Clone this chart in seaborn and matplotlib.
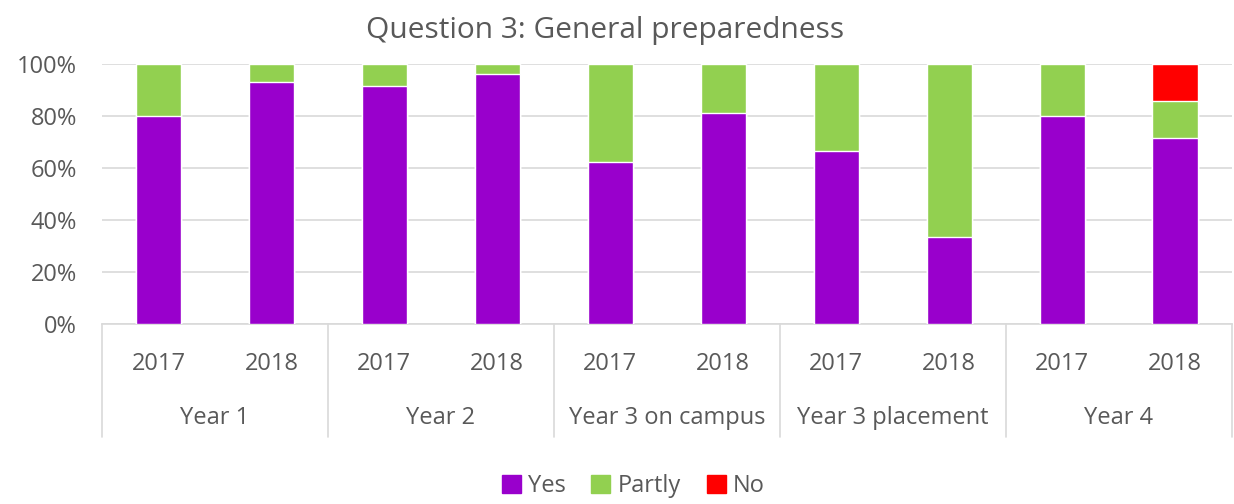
import pandas as pd
import matplotlib
matplotlib.use("Agg")
import matplotlib.pyplot as plt
import matplotlib.transforms as mtransforms
from matplotlib.patches import Patch
import seaborn as sns

groups = ["Year 1", "Year 2", "Year 3 on campus", "Year 3 placement", "Year 4"]
years = ["2017", "2018"]
yes = [80.0, 92.9, 91.7, 96.0, 62.5, 81.3, 66.7, 33.3, 80.0, 71.4]
partly = [20.0, 7.1, 8.3, 4.0, 37.5, 18.7, 33.3, 66.7, 20.0, 14.3]
no = [0.0, 0.0, 0.0, 0.0, 0.0, 0.0, 0.0, 0.0, 0.0, 14.3]

C_YES = "#9900cc"
C_PARTLY = "#92d050"
C_NO = "#ff0000"
TXT = "#595959"


def build_frame():
    rows = []
    i = 0
    for g in groups:
        for y in years:
            rows.append({"key": f"{g}|{y}", "group": g, "year": y,
                         "Yes": yes[i], "Partly": partly[i], "No": no[i]})
            i += 1
    df = pd.DataFrame(rows)
    df["yes_partly"] = df["Yes"] + df["Partly"]
    df["total"] = df["yes_partly"] + df["No"]
    return df


def main():
    sns.set_style("white")
    plt.rcParams["font.family"] = ["Open Sans", "DejaVu Sans"]

    df = build_frame()
    fig = plt.figure(figsize=(12.34, 5.04), dpi=100)
    ax = fig.add_axes([0.0827, 0.357, 0.9153, 0.516])

    order = list(df["key"])
    # stacked bars: draw cumulative totals back to front
    for col, colr in [("total", C_NO), ("yes_partly", C_PARTLY), ("Yes", C_YES)]:
        sns.barplot(data=df, x="key", y=col, order=order, color=colr,
                    width=0.4, saturation=1, ax=ax, zorder=3)

    ax.set_ylim(0, 100)
    ax.set_xlim(-0.5, len(order) - 0.5)
    ax.set_yticks(range(0, 101, 20))
    ax.set_yticklabels([f"{v}%" for v in range(0, 101, 20)], fontsize=17, color=TXT)
    ax.yaxis.grid(True, color="#d9d9d9", linewidth=1.2, zorder=0)
    ax.set_axisbelow(True)
    ax.tick_params(axis="y", length=0, pad=18)
    ax.set_xlabel("")
    ax.set_ylabel("")
    for s in ["left", "right", "top"]:
        ax.spines[s].set_visible(False)
    ax.spines["bottom"].set_color("#d9d9d9")
    ax.spines["bottom"].set_linewidth(1.2)

    # two-level category axis
    ax.set_xticks(range(len(order)))
    ax.set_xticklabels(list(df["year"]), fontsize=17, color=TXT)
    ax.tick_params(axis="x", length=0, pad=20)
    trans = mtransforms.blended_transform_factory(ax.transData, ax.transAxes)
    for gi, g in enumerate(groups):
        ax.text(gi * 2 + 0.5, -0.36, g, transform=trans, ha="center", va="center",
                fontsize=17, color=TXT)
    for b in range(len(groups) + 1):
        ax.plot([b * 2 - 0.5, b * 2 - 0.5], [0, -0.435], transform=trans,
                color="#d9d9d9", linewidth=1.2, clip_on=False)

    fig.text(0.49, 0.94, "Question 3: General preparedness", ha="center",
             va="center", fontsize=21.5, color=TXT)

    handles = [Patch(color=C_YES, label="Yes"), Patch(color=C_PARTLY, label="Partly"),
               Patch(color=C_NO, label="No")]
    leg = fig.legend(handles=handles, loc="lower center", bbox_to_anchor=(0.513, -0.03),
                     ncol=3, frameon=False, fontsize=17, handlelength=0.8,
                     handleheight=0.8, handletextpad=0.3, columnspacing=1.1)
    for t in leg.get_texts():
        t.set_color(TXT)

    fig.savefig("out.png", dpi=100)
    plt.close(fig)


if __name__ == "__main__":
    main()
